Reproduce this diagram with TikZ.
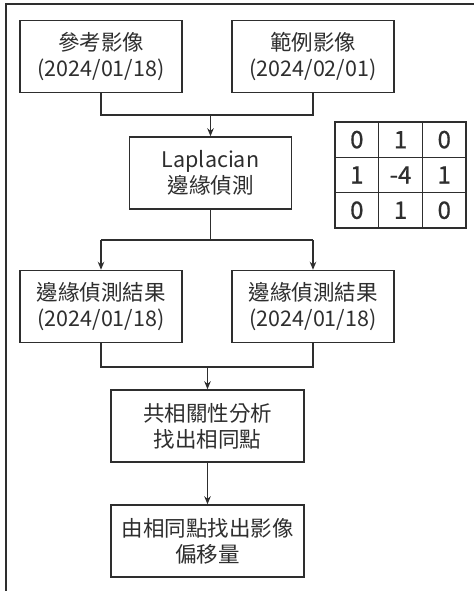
\documentclass[tikz,border=0pt]{standalone}
\usepackage{fontspec}
\setmainfont{Noto Sans CJK TC}
\newfontfamily\digitfont[FakeBold=0.8]{Noto Sans CJK TC}
\usetikzlibrary{arrows.meta}
\definecolor{ink}{HTML}{2E2E2E}
\begin{document}
\begin{tikzpicture}[x=1pt,y=-1pt,
  box/.style={draw=ink,line width=1.5pt,minimum width=162pt,minimum height=72pt,
    align=center,inner sep=0pt,font=\fontsize{21.5}{26}\selectfont,text=ink},
  wbox/.style={box,minimum width=193pt},
  cell/.style={draw=ink,line width=1.5pt,minimum width=43.7pt,minimum height=35.3pt,
    inner sep=0pt,font=\digitfont\fontsize{24}{26}\selectfont,text=ink},
  link/.style={draw=ink,line width=1.6pt},
  arr/.style={link,-{Stealth[length=8pt,width=6.5pt]}}]
\useasboundingbox (0,0) rectangle (474,591);
\fill[white] (0,0) rectangle (474,591);
% outer frame (top and left only)
\draw[ink,line width=2pt] (5.5,591) -- (5.5,4) -- (474,4);
% boxes
\node[box] (b1) at (101,56.5) {參考影像\\(2024/01/18)};
\node[box] (b2) at (313,56.5) {範例影像\\(2024/02/01)};
\node[box] (b3) at (210.5,173) {Laplacian\\邊緣偵測};
\node[box] (b4) at (101,306.5) {邊緣偵測結果\\(2024/01/18)};
\node[box] (b5) at (313,306.5) {邊緣偵測結果\\(2024/01/18)};
\node[wbox] (b6) at (207.5,426) {共相關性分析\\找出相同點};
\node[wbox] (b7) at (207.5,541) {由相同點找出影像\\偏移量};
% kernel
\foreach \r/\rowvals in {1/{0,1,0},2/{1,-4,1},3/{0,1,0}}{
  \foreach \v [count=\c] in \rowvals {
    \node[cell] (m\r\c) at ({335+43.7*(\c-0.5)},{122+35.3*(\r-0.5)}) {\v};
  }
}
% connectors
\coordinate (j1) at (210.5,115);
\draw[link] (b1.south) |- (j1);
\draw[link] (b2.south) |- (j1);
\draw[arr] (j1) -- (b3.north);
\coordinate (j2) at (210.5,240);
\coordinate (l2) at (101,240);
\coordinate (r2) at (313,240);
\draw[link] (b3.south) -- (j2);
\draw[link] (l2) -- (r2);
\draw[arr] (l2) -- (b4.north);
\draw[arr] (r2) -- (b5.north);
\coordinate (j3) at (207.5,367);
\draw[link] (b4.south) |- (j3);
\draw[link] (b5.south) |- (j3);
\draw[arr] (j3) -- (b6.north);
\draw[arr] (b6.south) -- (b7.north);
\end{tikzpicture}
\end{document}
